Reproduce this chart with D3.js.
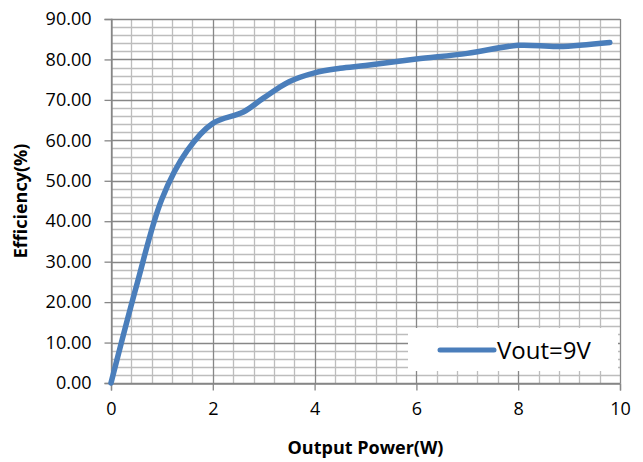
<!DOCTYPE html>
<html>
<head>
<meta charset="utf-8">
<script src="https://cdn.jsdelivr.net/npm/d3@7/dist/d3.min.js"></script>
<style>
  html, body { margin: 0; padding: 0; background: #fff; }
  svg text { font-family: "Open Sans", "Liberation Sans", sans-serif; fill: #000; }
</style>
</head>
<body>
<svg id="chart" width="643" height="462"></svg>
<script>
// ---- data ----
const powerW = [0, 0.5, 1, 1.5, 2, 2.6, 3, 3.5, 4, 4.5, 5, 6, 7, 8, 8.8, 9.8];
const efficiency = [0, 24, 45.5, 57.5, 64.2, 67, 70.5, 74.5, 76.7, 77.8, 78.5, 80.1, 81.5, 83.5, 83.2, 84.2];
const xTicks = [0, 2, 4, 6, 8, 10];
const yTicks = [0, 10, 20, 30, 40, 50, 60, 70, 80, 90];
const seriesName = "Vout=9V";
const xTitle = "Output Power(W)";
const yTitle = "Efficiency(%)";

// ---- layout ----
const svg = d3.select("#chart");
const L = 111, R = 620, T = 19, B = 383;
const x = d3.scaleLinear().domain([0, 10]).range([L, R]);
const y = d3.scaleLinear().domain([0, 90]).range([B, T]);

const majorCol = "#878787", minorCol = "#bdbdbd", blue = "#4a7ebb";

// minor gridlines
const xMinor = d3.range(0, 10.001, 0.4).filter(v => Math.abs(v / 2 - Math.round(v / 2)) > 1e-6);
const yMinor = d3.range(0, 90.001, 2).filter(v => v % 10 !== 0);
const g = svg.append("g");
g.selectAll(".yminor").data(yMinor).join("line")
  .attr("x1", L).attr("x2", R).attr("y1", d => Math.round(y(d)) + 0.5).attr("y2", d => Math.round(y(d)) + 0.5)
  .attr("stroke", minorCol).attr("stroke-width", 1.3);
g.selectAll(".xminor").data(xMinor).join("line")
  .attr("y1", T).attr("y2", B).attr("x1", d => Math.round(x(d)) + 0.5).attr("x2", d => Math.round(x(d)) + 0.5)
  .attr("stroke", minorCol).attr("stroke-width", 1.3);
// major gridlines
g.selectAll(".ymajor").data(yTicks).join("line")
  .attr("x1", L).attr("x2", R).attr("y1", d => Math.round(y(d)) + 0.5).attr("y2", d => Math.round(y(d)) + 0.5)
  .attr("stroke", majorCol).attr("stroke-width", 1.3);
g.selectAll(".xmajor").data(xTicks).join("line")
  .attr("y1", T).attr("y2", B).attr("x1", d => Math.round(x(d)) + 0.5).attr("x2", d => Math.round(x(d)) + 0.5)
  .attr("stroke", majorCol).attr("stroke-width", 1.3);

// axes
const xAxis = d3.axisBottom(x).tickValues(xTicks).tickFormat(d3.format("d")).tickSize(7).tickPadding(12);
const yAxis = d3.axisLeft(y).tickValues(yTicks).tickFormat(d3.format(".2f")).tickSize(7).tickPadding(13);
const gx = svg.append("g").attr("transform", `translate(0,${B + 0.5})`).call(xAxis);
const gy = svg.append("g").attr("transform", `translate(${L + 0.5},0)`).call(yAxis);
[gx, gy].forEach(a => {
  a.select(".domain").attr("stroke", majorCol).attr("stroke-width", 1.3);
  a.selectAll(".tick line").attr("stroke", majorCol).attr("stroke-width", 1.3);
  a.selectAll(".tick text").attr("font-size", 18).attr("font-family", "Open Sans").attr("fill", "#000");
});

// series line
const line = d3.line().x((d, i) => x(powerW[i])).y(d => y(d)).curve(d3.curveCatmullRom.alpha(0.5));
svg.append("path").datum(efficiency).attr("d", line)
  .attr("fill", "none").attr("stroke", blue).attr("stroke-width", 5.5)
  .attr("stroke-linecap", "round").attr("stroke-linejoin", "round");

// legend
const lg = svg.append("g");
lg.append("rect").attr("x", 408).attr("y", 328).attr("width", 210).attr("height", 43).attr("fill", "#fff");
lg.append("line").attr("x1", 440).attr("x2", 494).attr("y1", 350).attr("y2", 350)
  .attr("stroke", blue).attr("stroke-width", 5).attr("stroke-linecap", "round");
lg.append("text").attr("x", 497).attr("y", 358.5).attr("font-size", 24).text(seriesName);

// axis titles
svg.append("text").attr("x", (L + R) / 2).attr("y", 454).attr("text-anchor", "middle")
  .attr("font-size", 18).attr("font-weight", "bold").text(xTitle);
svg.append("text").attr("transform", `translate(27,${(T + B) / 2}) rotate(-90)`).attr("text-anchor", "middle")
  .attr("font-size", 18).attr("font-weight", "bold").text(yTitle);
</script>
</body>
</html>
